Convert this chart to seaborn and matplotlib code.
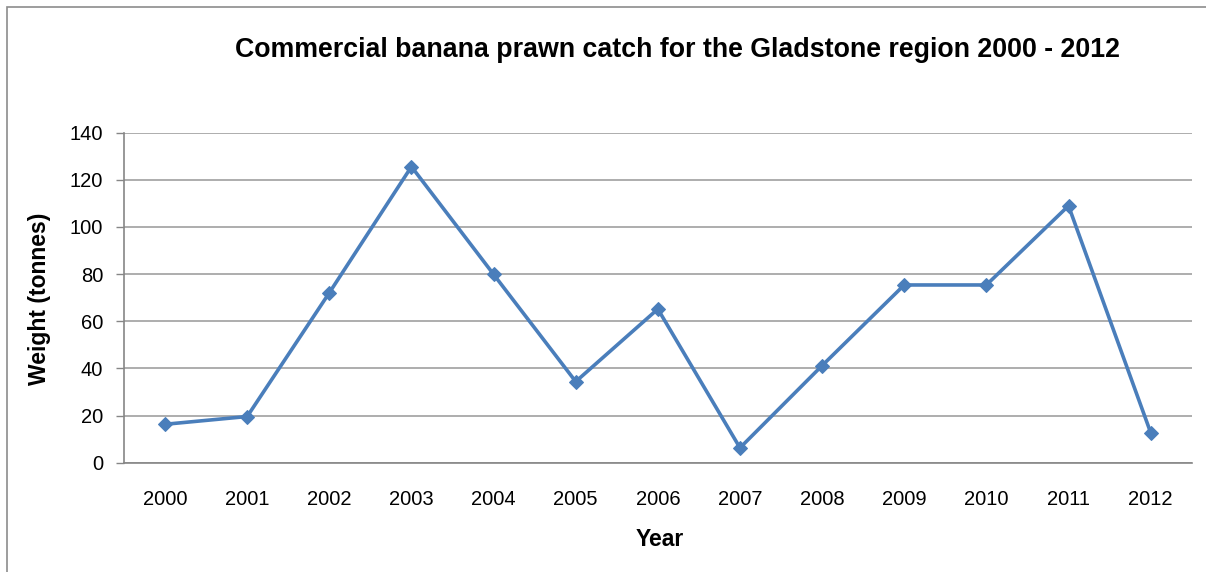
import matplotlib
matplotlib.use("Agg")
import matplotlib.pyplot as plt
from matplotlib.patches import Rectangle
import seaborn as sns
import pandas as pd

years = ["2000", "2001", "2002", "2003", "2004", "2005", "2006",
         "2007", "2008", "2009", "2010", "2011", "2012"]
catch_tonnes = [16.3, 19.6, 72.1, 125.6, 79.9, 34.4, 65.2,
                6.3, 41.2, 75.4, 75.4, 109.0, 12.8]
y_ticks = [0, 20, 40, 60, 80, 100, 120, 140]

title = "Commercial banana prawn catch for the Gladstone region 2000 - 2012"
x_label = "Year"
y_label = "Weight (tonnes)"

df = pd.DataFrame({"year": years, "weight": catch_tonnes})
df["pos"] = range(len(years))

sns.set_theme(style="white")
plt.rcParams["font.family"] = ["Liberation Sans", "DejaVu Sans"]
plt.rcParams["text.color"] = "black"

W, H = 1206, 572
fig = plt.figure(figsize=(W / 100, H / 100), dpi=100)
ax = fig.add_axes([124 / W, (H - 462.7) / H, (1191.7 - 124) / W, (462.7 - 132.7) / H])

line_color = "#4a7ebb"
grid_color = "#a0a0a0"
axis_color = "#868686"

sns.lineplot(data=df, x="pos", y="weight", ax=ax, color=line_color,
             linewidth=2.6, marker="D", markersize=7.5,
             markeredgecolor=line_color, markerfacecolor=line_color)

ax.set_xlim(-0.5, len(years) - 0.5)
ax.set_ylim(0, 140)
ax.set_yticks(y_ticks)
ax.set_yticklabels([str(v) for v in y_ticks], fontsize=14.5, color="black")

# category labels centred, tick marks on category boundaries
ax.set_xticks(range(len(years)))
ax.set_xticklabels(years, fontsize=14.5, color="black")
ax.set_xticks([i - 0.5 for i in range(len(years) + 1)], minor=True)
ax.tick_params(axis="x", which="major", length=0, pad=20)
ax.tick_params(axis="x", which="minor", length=6, width=1, color=axis_color, direction="out")
ax.tick_params(axis="y", which="major", length=6, width=1, color=axis_color,
               direction="out", pad=9, left=True)

ax.yaxis.grid(True, color=grid_color, linewidth=1.2)
ax.xaxis.grid(False)
ax.set_axisbelow(True)

for side in ["top", "right"]:
    ax.spines[side].set_visible(False)
for side in ["left", "bottom"]:
    ax.spines[side].set_color(axis_color)
    ax.spines[side].set_linewidth(1.2)

ax.set_xlabel("")
ax.set_ylabel("")
fig.text(660 / W, 1 - 539 / H, x_label, fontsize=16.5, fontweight="bold",
         ha="center", va="center", color="black")
fig.text(40 / W, 1 - 299 / H, y_label, fontsize=16.5, fontweight="bold",
         ha="center", va="center", rotation=90, color="black")
fig.text(677 / W, 1 - 50 / H, title, fontsize=19.3, fontweight="bold",
         ha="center", va="center", color="black")

# chart-area border
fig.patches.append(Rectangle((6.5 / W, -0.2), 1.3, 1.2 - 6.5 / H,
                             transform=fig.transFigure, fill=False,
                             edgecolor="#8c8c8c", linewidth=1.2))

fig.savefig("out.png", dpi=100)
